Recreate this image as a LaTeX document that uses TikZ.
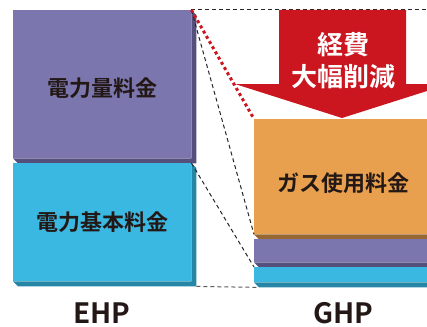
\documentclass[tikz,border=0pt]{standalone}
\usepackage{fontspec}
\newfontfamily\jpfont{Noto Sans CJK JP}[BoldFont={Noto Sans CJK JP Bold}]
\usetikzlibrary{calc,positioning}

\definecolor{usagepurple}{HTML}{7B76AD}
\definecolor{usagedark}{HTML}{554F7E}
\definecolor{basecyan}{HTML}{3BB8E2}
\definecolor{basedark}{HTML}{2686A5}
\definecolor{gasorange}{HTML}{E8A04F}
\definecolor{gasdark}{HTML}{966731}
\definecolor{cutred}{HTML}{CB1620}
\definecolor{textdark}{HTML}{231815}

% extruded faces below and right of a block
\newcommand{\sideface}[2]{%
  \fill[#2] (#1.north east) -- ++(5,5) -- ($(#1.south east)+(5,5)$)
    -- ($(#1.south west)+(5,5)$) -- (#1.south west) -- (#1.south east) -- cycle;}

\begin{document}
\begin{tikzpicture}[
    x=1pt, y=-1pt,
    block/.style={fill=#1, inner sep=0pt, anchor=north west,
      text=textdark, font=\jpfont\bfseries\fontsize{22}{26}\selectfont},
    guide/.style={draw=black!85, line width=1pt, dash pattern=on 4pt off 3pt},
    system/.style={text=textdark, font=\jpfont\bfseries\fontsize{28}{32}\selectfont}
  ]
  \useasboundingbox (0,0) rectangle (427,326);
  \clip (0,0) rectangle (427,326);

  % EHP
  \node[block=usagepurple, minimum width=178pt, minimum height=148pt] (ehpusage) at (13,10) {};
  \sideface{ehpusage}{usagedark}
  \node[block=basecyan, minimum width=178pt, minimum height=118pt] (ehpbase) at (13,163) {電力基本料金};
  \sideface{ehpbase}{basedark}
  \node[text=textdark, font=\jpfont\bfseries\fontsize{22}{26}\selectfont] (usagelabel) at (102,88) {電力量料金};
  \node[system] (ehp) at (102,313) {EHP};

  % GHP
  \node[block=gasorange, minimum width=200pt, minimum height=115pt] (ghpgas) at (254,119) {};
  \sideface{ghpgas}{gasdark}
  \node[block=usagepurple, minimum width=200pt, minimum height=23pt] (ghpusage) at (254,239) {};
  \sideface{ghpusage}{usagedark}
  \node[block=basecyan, minimum width=200pt, minimum height=15pt] (ghpbase) at (254,267) {};
  \sideface{ghpbase}{basedark}
  \node[text=textdark, font=\jpfont\bfseries\fontsize{22}{26}\selectfont] (gaslabel) at (343,183) {ガス使用料金};
  \node[system] (ghp) at (343,313) {GHP};

  % guide lines
  \coordinate (topend) at (427,10);
  \draw[guide] (ehpusage.north east) -- (topend);
  \draw[guide] (ehpusage.north east) -- (ghpgas.south west);
  \draw[guide] (ehpbase.north east) -- (ghpbase.north west);
  \draw[guide, draw=black!65] ($(ehpbase.south east)+(5,5)$) -- ($(ghpbase.south west)+(5,5)$);
  \draw[cutred, line width=3pt, dash pattern=on 3pt off 3pt] (ehpusage.north east) -- (ghpgas.north west);

  % reduction arrow
  \fill[cutred] (279,10) -- (406,10) -- (406,84) -- (449,84) -- (342,118)
    -- (235,84) -- (279,84) -- cycle;
  \node[text=white, align=center, font=\jpfont\bfseries\fontsize{26}{32}\selectfont] (cut) at (343,61) {経費\\大幅削減};
\end{tikzpicture}
\end{document}
